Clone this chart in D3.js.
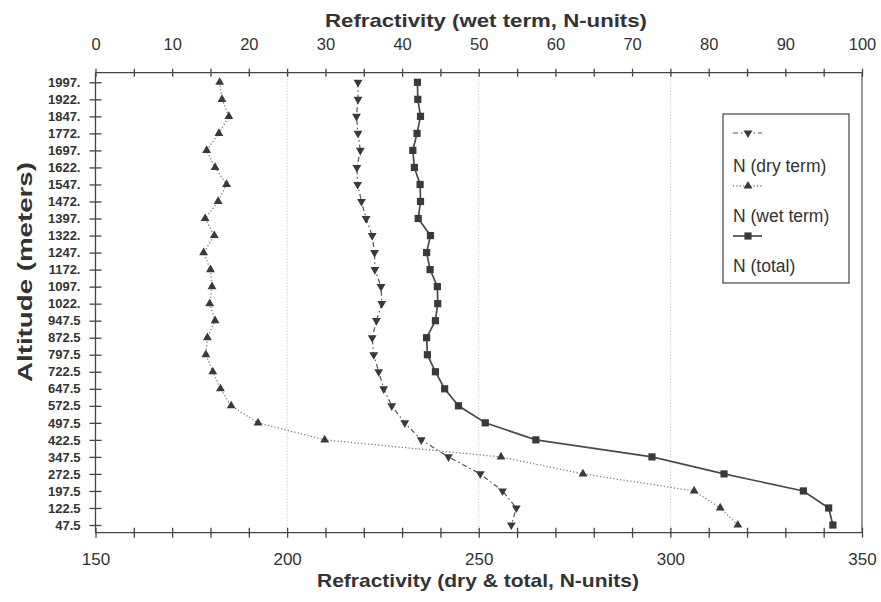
<!DOCTYPE html>
<html>
<head>
<meta charset="utf-8">
<script src="https://cdn.jsdelivr.net/npm/d3@7"></script>
<style>
  html, body { margin: 0; padding: 0; background: #fff; }
  svg { display: block; }
  text { font-family: "Liberation Sans", Arial, sans-serif; fill: #333; }
</style>
</head>
<body>
<svg id="chart" width="881" height="602"></svg>
<script>
// ---------------- DATA ----------------
const altitudes = ["1997.","1922.","1847.","1772.","1697.","1622.","1547.","1472.","1397.","1322.","1247.","1172.","1097.","1022.","947.5","872.5","797.5","722.5","647.5","572.5","497.5","422.5","347.5","272.5","197.5","122.5","47.5"];
const dryTerm   = [218.5,218.5,218.1,218.5,219.1,218.2,218.4,219.4,220.6,222.2,222.8,222.9,224.5,224.7,223.3,222.2,222.6,223.9,225.2,227.3,230.7,235.0,242.1,250.4,256.2,259.8,258.5];
const wetTerm   = [16.2,16.5,17.4,16.1,14.5,15.6,17.1,16.0,14.3,15.5,14.1,15.0,15.2,14.9,15.6,14.6,14.4,15.3,16.3,17.7,21.2,29.9,52.9,63.6,78.1,81.5,83.8];
const totalN    = [234.0,234.1,234.8,233.9,232.8,233.2,234.7,234.8,234.2,237.4,236.4,237.3,239.2,239.3,238.7,236.4,236.6,238.7,241.1,244.7,251.7,264.9,295.2,314.0,334.7,341.3,342.4];
const dryTickLabels = [150, 200, 250, 300, 350];
const wetTickLabels = [0, 10, 20, 30, 40, 50, 60, 70, 80, 90, 100];
const seriesNames = ["N (dry term)", "N (wet term)", "N (total)"];

// ---------------- LAYOUT ----------------
const L = 95.5, R = 862, T = 72.7, B = 532.7;
const svg = d3.select("#chart");
const ink = "#333";

const xDry = d3.scaleLinear().domain([150, 350]).range([L, R]);
const xWet = d3.scaleLinear().domain([0, 100]).range([L, R]);
const y = d3.scalePoint().domain(altitudes).range([82.3, 525]);

// gridlines (dotted, light)
svg.append("g").selectAll("line").data([200, 250, 300]).join("line")
  .attr("x1", d => xDry(d)).attr("x2", d => xDry(d))
  .attr("y1", T).attr("y2", B)
  .attr("stroke", "#bbb").attr("stroke-width", 1).attr("stroke-dasharray", "1,2");

// right frame
svg.append("line").attr("x1", R).attr("x2", R).attr("y1", T).attr("y2", B)
  .attr("stroke", "#555").attr("stroke-width", 1.2);

// bottom axis
const gB = svg.append("g").attr("transform", `translate(0,${B})`)
  .call(d3.axisBottom(xDry).tickValues(d3.range(150, 351, 10)).tickSize(6).tickSizeOuter(0).tickPadding(14)
    .tickFormat(d => dryTickLabels.includes(d) ? d : ""));
gB.selectAll(".tick line").attr("y1", -5).attr("y2", 5);
gB.selectAll("text").style("font-size", "17px").attr("fill", ink);

// top axis
const gT = svg.append("g").attr("transform", `translate(0,${T})`)
  .call(d3.axisTop(xWet).tickValues(d3.range(0, 101, 5)).tickSize(6).tickSizeOuter(0).tickPadding(17)
    .tickFormat(d => wetTickLabels.includes(d) ? d : ""));
gT.selectAll(".tick line").attr("y1", -4).attr("y2", 4);
gT.selectAll("text").style("font-size", "16.5px").attr("fill", ink);

// left axis
const gL = svg.append("g").attr("transform", `translate(${L},0)`)
  .call(d3.axisLeft(y).tickSize(6).tickSizeOuter(0).tickPadding(9));
gL.selectAll(".tick line").attr("x1", -6).attr("x2", 6);
gL.selectAll("text").style("font-size", "13px").style("font-weight", "bold").attr("fill", ink);
gL.select(".domain").attr("d", `M0,${T}V${B}`);
gB.select(".domain").attr("d", `M${L},0H${R}`);
gT.select(".domain").attr("d", `M${L},0H${R}`);
svg.selectAll(".domain, .tick line").attr("stroke", "#444").attr("stroke-width", 1.3);

// titles
svg.append("text").attr("x", 325).attr("y", 27).attr("textLength", 322).attr("lengthAdjust", "spacingAndGlyphs")
  .style("font-size", "19px").style("font-weight", "bold").text("Refractivity (wet term, N-units)");
svg.append("text").attr("x", 317).attr("y", 587).attr("textLength", 322).attr("lengthAdjust", "spacingAndGlyphs")
  .style("font-size", "19px").style("font-weight", "bold").text("Refractivity (dry & total, N-units)");
svg.append("text").attr("transform", "translate(32,272) rotate(-90)").attr("text-anchor", "middle")
  .attr("textLength", 220).attr("lengthAdjust", "spacingAndGlyphs")
  .style("font-size", "21px").style("font-weight", "bold").text("Altitude (meters)");

// series
const series = [
  { name: seriesNames[0], vals: dryTerm, x: xDry, dash: "5,3,1.5,3", color: "#555", width: 1.2, sym: d3.symbolTriangle, size: 34, rot: 180 },
  { name: seriesNames[1], vals: wetTerm, x: xWet, dash: "1.2,2.2", color: "#777", width: 1.3, sym: d3.symbolTriangle, size: 34, rot: 0 },
  { name: seriesNames[2], vals: totalN, x: xDry, dash: null, color: "#4a4a4a", width: 1.7, sym: d3.symbolSquare, size: 52, rot: 0 }
];

series.forEach(s => {
  const line = d3.line().x((d, i) => s.x(d)).y((d, i) => y(altitudes[i]));
  svg.append("path").datum(s.vals).attr("d", line)
    .attr("fill", "none").attr("stroke", s.color).attr("stroke-width", s.width)
    .attr("stroke-dasharray", s.dash);
  svg.append("g").selectAll("path").data(s.vals).join("path")
    .attr("d", d3.symbol().type(s.sym).size(s.size))
    .attr("transform", (d, i) => `translate(${s.x(d)},${y(altitudes[i])}) rotate(${s.rot})`)
    .attr("fill", "#3a3a3a");
});

// legend
const lg = svg.append("g");
lg.append("rect").attr("x", 723).attr("y", 114).attr("width", 126).attr("height", 169)
  .attr("fill", "#fff").attr("stroke", "#444").attr("stroke-width", 1.2);
const symY = [133, 186, 236], txtY = [171.5, 221.5, 271.5];
series.forEach((s, i) => {
  lg.append("line").attr("x1", 733).attr("x2", 762).attr("y1", symY[i]).attr("y2", symY[i])
    .attr("stroke", s.color).attr("stroke-width", s.width).attr("stroke-dasharray", s.dash);
  lg.append("path").attr("d", d3.symbol().type(s.sym).size(s.size))
    .attr("transform", `translate(748,${symY[i]}) rotate(${s.rot})`).attr("fill", "#3a3a3a");
  lg.append("text").attr("x", 733).attr("y", txtY[i]).style("font-size", "17.5px").text(s.name);
});
</script>
</body>
</html>
